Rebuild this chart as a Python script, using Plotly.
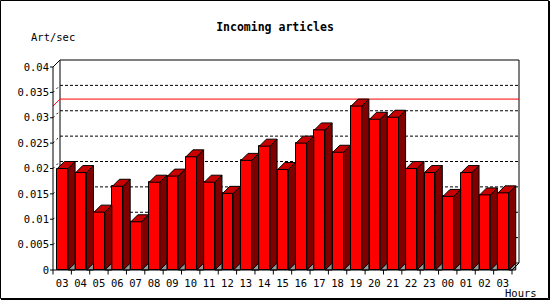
import plotly.graph_objects as go

# ---- data ----
hours = ["03", "04", "05", "06", "07", "08", "09", "10", "11", "12", "13", "14", "15",
         "16", "17", "18", "19", "20", "21", "22", "23", "00", "01", "02", "03"]
rates = [0.0200, 0.0192, 0.0114, 0.0165, 0.0095, 0.0173, 0.0185, 0.0223, 0.0173, 0.0151,
         0.0216, 0.0244, 0.0198, 0.0250, 0.0276, 0.0232, 0.0323, 0.0297, 0.0301, 0.0200,
         0.0192, 0.0145, 0.0192, 0.0148, 0.0152]
ytick_vals = [0, 0.005, 0.01, 0.015, 0.02, 0.025, 0.03, 0.035, 0.04]
ytick_text = ["0", "0.005", "0.01", "0.015", "0.02", "0.025", "0.03", "0.035", "0.04"]
title = "Incoming articles"
ylabel = "Art/sec"
xlabel = "Hours"

# ---- geometry (pixels) ----
WIDTH, HEIGHT = 550, 300
L, R, T, B = 50, 524, 58, 275          # plot area in pixels
X0PX, Y0PX = 53, 270                   # pixel of x=0, y=0
N = len(rates)
YMAX = ytick_vals[-1]
kx = 459.0 / N                         # px per category
ky = 203.0 / YMAX                      # px per unit
DX, DY = 7.0 / kx, 7.0 / ky            # 3D depth
FOFF, FW = 4.4 / kx, 10.7 / kx         # front face offset and width
PW, PH = R - L, B - T

def pxx(px):
    return (px - L) / PW

def pxy(py):
    return (B - py) / PH

FRONT = "#ff0000"
SIDE = "#800000"
TOP = "#c80000"
SHADOW = "#999999"

fig = go.Figure()

def polys(plist):
    xs, ys = [], []
    for p in plist:
        for (a, b) in p + [p[0]]:
            xs.append(a)
            ys.append(b)
        xs.append(None)
        ys.append(None)
    return xs, ys

shadows, sides, tops = [], [], []
for i, v in enumerate(rates):
    xl = i + FOFF
    xr = xl + FW
    shadows.append([(xr, 0), (xr + DX, 0), (xr + DX, DY)])
    sides.append([(xr, 0), (xr + DX, DY), (xr + DX, v + DY), (xr, v)])
    tops.append([(xl, v), (xr, v), (xr + DX, v + DY), (xl + DX, v + DY)])

for plist, col in [(shadows, SHADOW), (sides, SIDE), (tops, TOP)]:
    xs, ys = polys(plist)
    fig.add_trace(go.Scatter(x=xs, y=ys, mode="lines", fill="toself", fillcolor=col,
                             line=dict(color="black", width=1), hoverinfo="skip",
                             showlegend=False))

fig.add_trace(go.Bar(x=[i + FOFF + FW / 2 for i in range(N)], y=rates, width=FW,
                     marker=dict(color=FRONT, line=dict(color="black", width=1)),
                     showlegend=False, hoverinfo="skip"))

shapes = []
# back wall
shapes.append(dict(type="rect", xref="x", yref="y", x0=DX, y0=DY, x1=N + DX, y1=YMAX + DY,
                   line=dict(color="black", width=1), fillcolor="white", layer="below"))
# gridlines
for v in ytick_vals[1:-1]:
    shapes.append(dict(type="line", xref="x", yref="y", x0=DX, y0=v + DY, x1=N + DX, y1=v + DY,
                       line=dict(color="black", width=1, dash="3px,2px"), layer="below"))
    shapes.append(dict(type="line", xref="x", yref="y", x0=0, y0=v, x1=DX, y1=v + DY,
                       line=dict(color="black", width=1, dash="2px,3px"), layer="below"))
# max line
vmax = max(rates)
shapes.append(dict(type="line", xref="x", yref="y", x0=DX, y0=vmax + DY, x1=N + DX, y1=vmax + DY,
                   line=dict(color="red", width=1), layer="below"))
shapes.append(dict(type="line", xref="x", yref="y", x0=0, y0=vmax, x1=DX, y1=vmax + DY,
                   line=dict(color="red", width=1), layer="below"))
# front axes
shapes.append(dict(type="path", xref="x", yref="y",
                   path=f"M {DX},{YMAX + DY} L 0,{YMAX} L 0,0 L {N},0 L {N + DX},{DY}",
                   line=dict(color="black", width=1), layer="above"))
# y ticks
for v in ytick_vals:
    shapes.append(dict(type="line", xref="x", yref="y", x0=-3.5 / kx, y0=v, x1=0, y1=v,
                       line=dict(color="black", width=1), layer="above"))
# x ticks
for i in range(N + 1):
    shapes.append(dict(type="line", xref="x", yref="y", x0=i, y0=0, x1=i, y1=-4.5 / ky,
                       line=dict(color="black", width=1), layer="above"))
# image frame
shapes.append(dict(type="rect", xref="paper", yref="paper", x0=pxx(0.5), y0=pxy(0.5),
                   x1=pxx(548.5), y1=pxy(298.5), line=dict(color="black", width=1)))
shapes.append(dict(type="line", xref="paper", yref="paper", x0=pxx(549.5), y0=pxy(1),
                   x1=pxx(549.5), y1=pxy(300), line=dict(color="black", width=1)))
shapes.append(dict(type="line", xref="paper", yref="paper", x0=pxx(1), y0=pxy(299.5),
                   x1=pxx(550), y1=pxy(299.5), line=dict(color="black", width=1)))

FONT = "DejaVu Sans Mono"
annotations = [
    dict(text=ylabel, xref="paper", yref="paper", x=pxx(29), y=pxy(37), xanchor="left",
         yanchor="middle", showarrow=False, font=dict(family=FONT, size=10.5, color="black")),
    dict(text=xlabel, xref="paper", yref="paper", x=pxx(503), y=pxy(293), xanchor="left",
         yanchor="middle", showarrow=False, font=dict(family=FONT, size=10.5, color="black")),
]

fig.update_layout(
    width=WIDTH, height=HEIGHT, autosize=False,
    margin=dict(l=L, r=WIDTH - R, t=T, b=HEIGHT - B, pad=0),
    paper_bgcolor="white", plot_bgcolor="white",
    title=dict(text=title, x=0.5, xref="container", xanchor="center",
               y=1 - 27 / HEIGHT, yref="container", yanchor="middle",
               font=dict(family=FONT, size=11.5, color="black", weight="bold")),
    xaxis=dict(range=[(L - X0PX) / kx, (R - X0PX) / kx], showgrid=False, zeroline=False,
               showline=False, ticks="", tickvals=[i + 0.5 for i in range(N)], ticktext=hours,
               tickfont=dict(family=FONT, size=10.5, color="black"), fixedrange=True),
    yaxis=dict(range=[(Y0PX - B) / ky, (Y0PX - T) / ky], showgrid=False, zeroline=False,
               showline=False, ticks="", tickvals=ytick_vals, ticktext=ytick_text,
               tickfont=dict(family=FONT, size=10.5, color="black"), fixedrange=True),
    shapes=shapes,
    annotations=annotations,
    showlegend=False,
    bargap=0,
)

fig.write_html("out.html")
